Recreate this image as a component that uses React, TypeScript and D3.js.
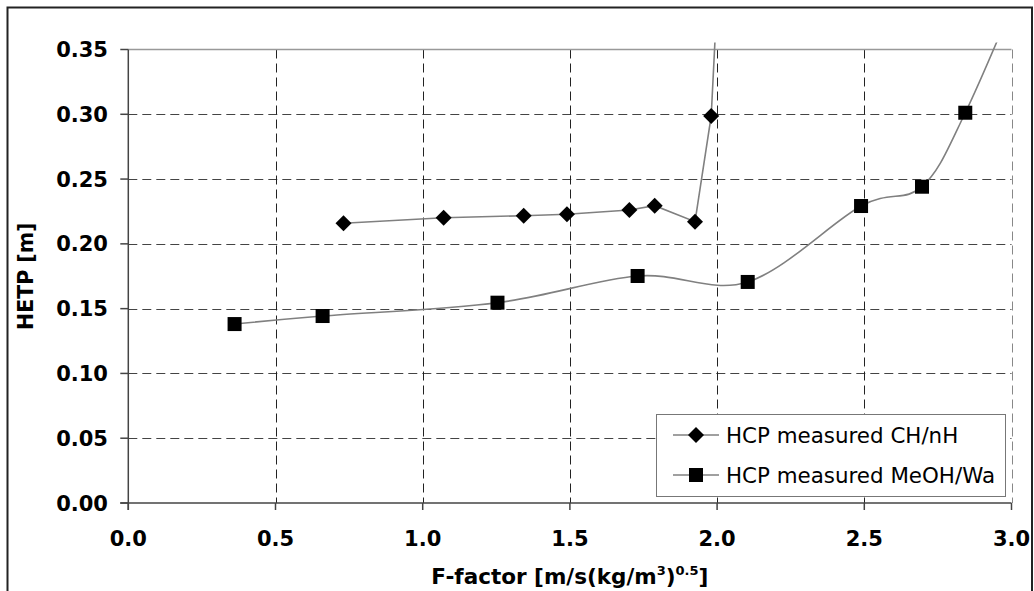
import React from "react";
import * as d3 from "d3";

// F-factor [m/s(kg/m3)^0.5] vs HETP [m]
const chX = [0.731, 1.071, 1.343, 1.49, 1.702, 1.788, 1.925, 1.98, 2.02];
const chY = [0.2159, 0.2202, 0.2217, 0.2228, 0.2261, 0.2295, 0.2171, 0.2987, 0.48];
const chMarked = 8; // last point has no marker (runs off the top)

const mwX = [0.361, 0.66, 1.254, 1.73, 2.104, 2.489, 2.696, 2.843, 3.05];
const mwY = [0.1381, 0.1443, 0.1546, 0.1752, 0.1706, 0.2292, 0.2441, 0.3012, 0.41];
const mwMarked = 8;

const xTicks = [0, 0.5, 1.0, 1.5, 2.0, 2.5, 3.0];
const yTicks = [0, 0.05, 0.1, 0.15, 0.2, 0.25, 0.3, 0.35];

const seriesNames = ["HCP measured CH/nH", "HCP measured MeOH/Wa"];

const FONT = "'DejaVu Sans', Verdana, sans-serif";

export default function App() {
  const W = 1034;
  const H = 591;
  const left = 128.3;
  const right = 1011.5;
  const top = 49.5;
  const bottom = 503;

  const x = d3.scaleLinear().domain([0, 3]).range([left, right]);
  const y = d3.scaleLinear().domain([0, 0.35]).range([bottom, top]);

  const ch = chX.map((v, i) => [x(v), y(chY[i])] as [number, number]);
  const mw = mwX.map((v, i) => [x(v), y(mwY[i])] as [number, number]);

  const straight = d3.line().curve(d3.curveLinear);
  const smooth = d3.line().curve(d3.curveCardinal.tension(0));

  const diamond = (cx: number, cy: number, r = 8) =>
    `M${cx},${cy - r}L${cx + r},${cy}L${cx},${cy + r}L${cx - r},${cy}Z`;
  const square = (cx: number, cy: number, s = 14) => (
    <rect x={cx - s / 2} y={cy - s / 2} width={s} height={s} fill="#000" />
  );

  const legX = 656;
  const legY = 414;
  const legW = 349;
  const legH = 82;
  const row1 = legY + 21;
  const row2 = legY + 61;

  return (
    <svg width={W} height={H} style={{ display: "block", position: "absolute", left: 0, top: 0 }}>
      <defs>
        <clipPath id="lineClip">
          <rect x={left} y={42.5} width={right - left + 20} height={bottom - 42.5} />
        </clipPath>
      </defs>
      <rect x={0} y={0} width={W} height={H} fill="#fff" />
      {/* outer chart frame */}
      <rect x={7.5} y={7.5} width={1024.5} height={H + 10} fill="none" stroke="#222" strokeWidth={2} />

      {/* grid */}
      {yTicks
        .filter((t) => t > 0 && t < 0.35)
        .map((t) => (
          <line
            key={"gy" + t}
            x1={left}
            x2={right}
            y1={Math.round(y(t)) + 0.5}
            y2={Math.round(y(t)) + 0.5}
            stroke="#444"
            strokeWidth={1}
            strokeDasharray="9,5"
          />
        ))}
      {xTicks
        .filter((t) => t > 0)
        .map((t) => (
          <line
            key={"gx" + t}
            x1={Math.round(x(t)) + 0.5}
            x2={Math.round(x(t)) + 0.5}
            y1={top}
            y2={bottom}
            stroke={t === 3 ? "#888" : "#222"}
            strokeWidth={1}
            strokeDasharray="9,5"
          />
        ))}
      {/* plot area top border */}
      <line x1={left} x2={right} y1={top} y2={top} stroke="#999" strokeWidth={1.5} />

      {/* axes */}
      <line x1={left} x2={left} y1={top} y2={bottom + 7} stroke="#444" strokeWidth={1.5} />
      <line x1={left - 8} x2={right} y1={bottom} y2={bottom} stroke="#444" strokeWidth={1.5} />
      {yTicks.map((t) => (
        <g key={"yt" + t}>
          <line x1={left - 8} x2={left} y1={y(t)} y2={y(t)} stroke="#444" strokeWidth={1.5} />
          <text
            x={108}
            y={y(t)}
            dy="0.36em"
            textAnchor="end"
            fontFamily={FONT}
            fontWeight="bold"
            fontSize={21}
            fill="#000"
          >
            {t.toFixed(2)}
          </text>
        </g>
      ))}
      {xTicks.map((t) => (
        <g key={"xt" + t}>
          <line x1={x(t)} x2={x(t)} y1={bottom} y2={bottom + 7} stroke="#444" strokeWidth={1.5} />
          <text
            x={x(t)}
            y={546}
            textAnchor="middle"
            fontFamily={FONT}
            fontWeight="bold"
            fontSize={21}
            fill="#000"
          >
            {t.toFixed(1)}
          </text>
        </g>
      ))}

      {/* axis titles */}
      <text
        x={(left + right) / 2}
        y={584}
        textAnchor="middle"
        fontFamily={FONT}
        fontWeight="bold"
        fontSize={21.5}
        fill="#000"
      >
        F-factor [m/s(kg/m
        <tspan fontSize={13} dy={-9}>3</tspan>
        <tspan dy={9}>)</tspan>
        <tspan fontSize={13} dy={-9}>0.5</tspan>
        <tspan dy={9}>]</tspan>
      </text>
      <text
        transform={`translate(33,${(top + bottom) / 2}) rotate(-90)`}
        textAnchor="middle"
        fontFamily={FONT}
        fontWeight="bold"
        fontSize={20.5}
        fill="#000"
      >
        HETP [m]
      </text>

      {/* series */}
      <g clipPath="url(#lineClip)">
        <path d={straight(ch) || ""} fill="none" stroke="#808080" strokeWidth={1.6} />
        <path d={smooth(mw) || ""} fill="none" stroke="#808080" strokeWidth={1.6} />
      </g>
      {ch.slice(0, chMarked).map(([cx, cy], i) => (
        <path key={"d" + i} d={diamond(cx, cy)} fill="#000" />
      ))}
      {mw.slice(0, mwMarked).map(([cx, cy], i) => (
        <g key={"s" + i}>{square(cx, cy)}</g>
      ))}

      {/* legend */}
      <rect x={legX + 0.5} y={legY + 0.5} width={legW} height={legH} fill="#fff" stroke="#777" strokeWidth={1} />
      <line x1={673} x2={719} y1={row1} y2={row1} stroke="#808080" strokeWidth={1.6} />
      <path d={diamond(696, row1)} fill="#000" />
      <text x={726} y={row1} dy="0.36em" fontFamily={FONT} fontSize={21.4} fill="#000">
        {seriesNames[0]}
      </text>
      <line x1={673} x2={719} y1={row2} y2={row2} stroke="#808080" strokeWidth={1.6} />
      {square(696, row2)}
      <text x={726} y={row2} dy="0.36em" fontFamily={FONT} fontSize={21.4} fill="#000">
        {seriesNames[1]}
      </text>
    </svg>
  );
}
